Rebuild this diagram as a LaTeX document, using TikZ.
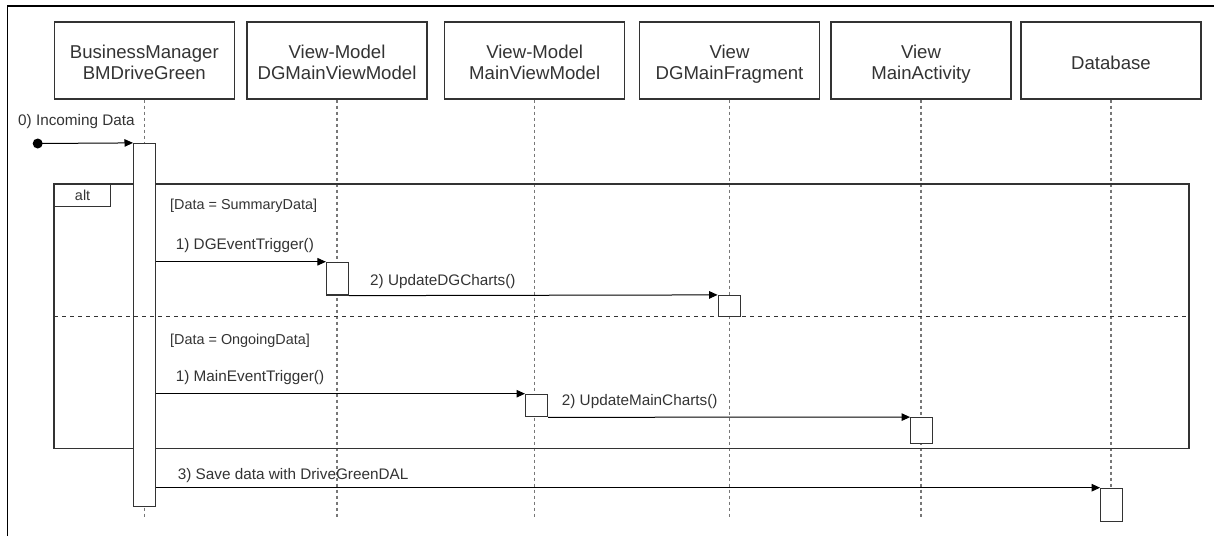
\documentclass[tikz,border=0pt]{standalone}
\usepackage{fontspec}
\setmainfont{Liberation Sans}
\usetikzlibrary{arrows.meta}

\definecolor{boxc}{HTML}{333333}
\definecolor{txtc}{HTML}{333333}
\definecolor{lifec}{HTML}{777777}

\tikzset{
  hdr/.style={draw=boxc, line width=1.2pt, minimum width=180pt, minimum height=77pt, inner sep=0pt},
  hdrtxt/.style={font=\fontsize{18.6}{21.7}\selectfont, text=txtc, align=center, inner sep=0pt},
  life/.style={draw=lifec, line width=1.3pt, dash pattern=on 3pt off 3pt},
  actbox/.style={draw=boxc, fill=white, line width=1.2pt, minimum width=22pt, inner sep=0pt},
  msg/.style={draw=black, line width=1pt, -{Triangle[length=8.5pt,width=7.5pt]}},
  lbl/.style={font=\fontsize{15.3}{18}\selectfont, text=txtc, anchor=base west, inner sep=0pt},
  grd/.style={font=\fontsize{14.4}{17}\selectfont, text=txtc, anchor=base west, inner sep=0pt},
  framec/.style={draw=boxc, line width=1.2pt},
  tabbox/.style={draw=boxc, line width=1.2pt, anchor=north west, minimum width=56pt, minimum height=21.7pt, inner sep=0pt, font=\fontsize{14.4}{17}\selectfont, text=txtc},
  divider/.style={draw=boxc, line width=1.2pt, dash pattern=on 4pt off 4pt},
}

\begin{document}
\begin{tikzpicture}[x=1pt, y=-1pt]
\useasboundingbox (0,0) rectangle (1214,536);

% outer border
\draw[black, line width=1.3pt] (7.3,536) -- (7.3,6) -- (1214,6);

% participant headers
\node[hdr] (b1) at (144.3,60.5) {};
\node[hdr] (b2) at (337,60.5) {};
\node[hdr] (b3) at (534.7,60.5) {};
\node[hdr] (b4) at (729.5,60.5) {};
\node[hdr] (b5) at (921,60.5) {};
\node[hdr] (b6) at (1111,60.5) {};
\node[hdrtxt] (t1) at (144.3,64.7) {\strut BusinessManager\\\strut BMDriveGreen};
\node[hdrtxt] (t2) at (337,64.7) {\strut View-Model\\\strut DGMainViewModel};
\node[hdrtxt] (t3) at (534.7,64.7) {\strut View-Model\\\strut MainViewModel};
\node[hdrtxt] (t4) at (729.5,64.7) {\strut View\\\strut DGMainFragment};
\node[hdrtxt] (t5) at (921,64.7) {\strut View\\\strut MainActivity};
\node[hdrtxt] (t6) at (1111,64.7) {\strut Database};

% lifelines
\foreach \i in {1,...,6} {
  \coordinate (e\i) at (b\i.south |- 0,518.5);
  \draw[life] (b\i.south) -- (e\i);
}

% alt combined fragment
\coordinate (fnw) at (54,184);
\coordinate (fse) at (1189,448.3);
\draw[framec] (fnw) rectangle (fse);
\node[tabbox] (tab) at (fnw) {alt};

% activations
\node[actbox, minimum height=363.2pt] (act1) at (144.6,325.1) {};
\node[actbox, minimum height=32.7pt]  (act2) at (337.5,278.7) {};
\node[actbox, minimum height=21.2pt]  (act4) at (729.2,306.1) {};
\node[actbox, minimum height=22.4pt]  (act3) at (536.6,405.5) {};
\node[actbox, minimum height=25.6pt]  (act5) at (921.7,430.5) {};
\node[actbox, minimum height=33.4pt]  (act6) at (1111.7,505) {};

% operand separator
\draw[divider] (fnw |- 0,316.3) -- (fse |- 0,316.3);

% incoming data
\node[circle, fill=black, minimum size=10pt, inner sep=0pt] (src) at (37.7,143.5) {};
\draw[msg] (src.center) -- (act1.north west);
\node[lbl] (l0) at (18,125) {0) Incoming Data};

% guards
\node[grd] (g1) at (170,209.6) {[Data = SummaryData]};
\node[grd] (g2) at (170,344.6) {[Data = OngoingData]};

% messages
\draw[msg] (act1.east |- act2.north west) -- (act2.north west);
\node[lbl] (l1) at (175.7,249) {1) DGEventTrigger()};
\draw[msg] (act2.south east) -- (act4.north west);
\node[lbl] (l2) at (370,285.7) {2) UpdateDGCharts()};
\draw[msg] (act1.east |- act3.north west) -- (act3.north west);
\node[lbl] (l3) at (175.7,381.3) {1) MainEventTrigger()};
\draw[msg] (act3.south east) -- (act5.north west);
\node[lbl] (l4) at (561.7,405.7) {2) UpdateMainCharts()};
\draw[msg] (act1.east |- act6.north west) -- (act6.north west);
\node[lbl] (l5) at (177.7,479) {3) Save data with DriveGreenDAL};
\end{tikzpicture}
\end{document}
